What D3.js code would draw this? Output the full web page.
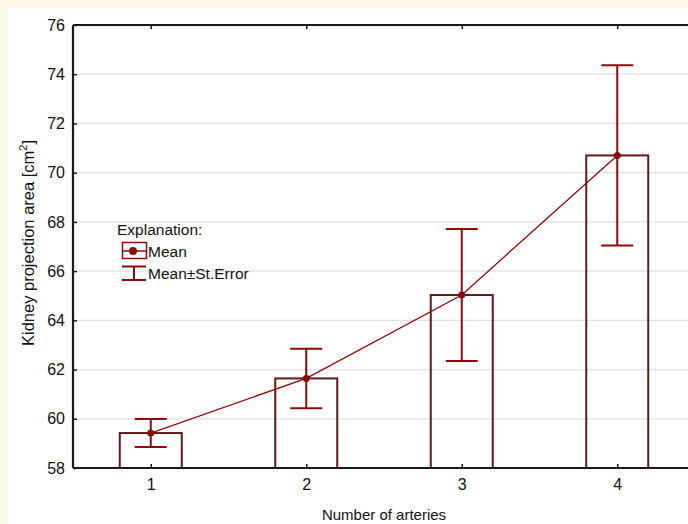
<!DOCTYPE html>
<meta charset="utf-8">
<style>
    body { margin: 0; background: #fdf9e6; }
    svg { display: block; font-family: Arial, "Liberation Sans", sans-serif; }
</style>
<body>
<svg width="688" height="524"></svg>
<script src="https://d3js.org/d3.v7.min.js"></script>
<script>
    // values
    var categories = [1, 2, 3, 4];
    var means = [59.42, 61.64, 65.03, 70.70];
    var stErrors = [0.57, 1.21, 2.68, 3.66];
    var yTicks = [58, 60, 62, 64, 66, 68, 70, 72, 74, 76];

    var svg = d3.select("svg");
    var margin = { top: 25, left: 73 },
        width = 622,
        height = 443;

    var red = "#8b0a0a", barStroke = "#5c1a1a";

    // white panel
    svg.append("rect")
        .attr("x", 8).attr("y", 8)
        .attr("width", 680).attr("height", 516)
        .attr("fill", "#fff");

    var x = d3.scaleLinear().domain([0.5, 4.5]).range([0, width]),
        y = d3.scaleLinear().domain([58, 76]).range([height, 0]);

    var g = svg.append("g")
        .attr("transform", "translate(" + margin.left + "," + margin.top + ")");

    // grid
    g.selectAll(".grid")
        .data(yTicks.slice(1, -1))
        .enter().append("line")
        .attr("x1", 0).attr("x2", width)
        .attr("y1", function (d) { return y(d); })
        .attr("y2", function (d) { return y(d); })
        .attr("stroke", "#e0e0e0")
        .attr("stroke-width", 1.2);

    var data = categories.map(function (c, i) {
        return { c: c, m: means[i], se: stErrors[i] };
    });

    var barW = 62;
    g.selectAll(".bar")
        .data(data)
        .enter().append("rect")
        .attr("x", function (d) { return x(d.c) - barW / 2; })
        .attr("y", function (d) { return y(d.m); })
        .attr("width", barW)
        .attr("height", function (d) { return height - y(d.m); })
        .attr("fill", "none")
        .attr("stroke", barStroke)
        .attr("stroke-width", 2);

    // line through means
    g.append("path")
        .datum(data)
        .attr("fill", "none")
        .attr("stroke", red)
        .attr("stroke-width", 1.3)
        .attr("d", d3.line()
            .x(function (d) { return x(d.c); })
            .y(function (d) { return y(d.m); }));

    // error bars
    var capW = 32;
    var eb = g.selectAll(".err").data(data).enter().append("g")
        .attr("stroke", red).attr("stroke-width", 2);
    eb.append("line")
        .attr("x1", function (d) { return x(d.c); })
        .attr("x2", function (d) { return x(d.c); })
        .attr("y1", function (d) { return y(d.m + d.se); })
        .attr("y2", function (d) { return y(d.m - d.se); });
    eb.append("line")
        .attr("x1", function (d) { return x(d.c) - capW / 2; })
        .attr("x2", function (d) { return x(d.c) + capW / 2; })
        .attr("y1", function (d) { return y(d.m + d.se); })
        .attr("y2", function (d) { return y(d.m + d.se); });
    eb.append("line")
        .attr("x1", function (d) { return x(d.c) - capW / 2; })
        .attr("x2", function (d) { return x(d.c) + capW / 2; })
        .attr("y1", function (d) { return y(d.m - d.se); })
        .attr("y2", function (d) { return y(d.m - d.se); });

    g.selectAll(".dot")
        .data(data)
        .enter().append("circle")
        .attr("cx", function (d) { return x(d.c); })
        .attr("cy", function (d) { return y(d.m); })
        .attr("r", 3.5)
        .attr("fill", red);

    // axes
    var xAxis = d3.axisBottom(x).tickValues(categories).tickSize(-4).tickPadding(10.5).tickFormat(d3.format("d"));
    var yAxis = d3.axisLeft(y).tickValues(yTicks).tickSize(-4).tickPadding(8);

    var ax = g.append("g").attr("transform", "translate(0," + height + ")").call(xAxis);
    var ay = g.append("g").call(yAxis);
    var at = g.append("g").call(d3.axisTop(x).tickValues(categories).tickSize(-4).tickFormat(""));

    [ax, ay, at].forEach(function (a) {
        a.select(".domain").attr("stroke", "#1a1a1a").attr("stroke-width", 2.2);
        a.selectAll(".tick line").attr("stroke", "#1a1a1a").attr("stroke-width", 1.5);
        a.selectAll(".tick text").attr("fill", "#111").style("font-size", "16px");
    });
    at.select(".domain").attr("d", "M0,0H" + width);
    ax.select(".domain").attr("d", "M0,0H" + width);
    ay.select(".domain").attr("d", "M0," + height + "V0");

    // titles
    svg.append("text")
        .attr("x", 384).attr("y", 520)
        .attr("text-anchor", "middle")
        .style("font-size", "15px")
        .attr("fill", "#111")
        .text("Number of arteries");

    var yt = svg.append("text")
        .attr("transform", "translate(34,243) rotate(-90)")
        .attr("text-anchor", "middle")
        .style("font-size", "16.5px")
        .attr("fill", "#111");
    yt.append("tspan").text("Kidney projection area [cm");
    yt.append("tspan").attr("dy", -7).style("font-size", "11px").text("2");
    yt.append("tspan").attr("dy", 7).text("]");

    // legend
    var lg = svg.append("g").attr("transform", "translate(117,229)");
    lg.append("text").attr("x", 0).attr("y", 6)
        .style("font-size", "15.5px").attr("fill", "#111").text("Explanation:");
    lg.append("rect").attr("x", 5.5).attr("y", 13.5).attr("width", 24).attr("height", 16)
        .attr("fill", "none").attr("stroke", red).attr("stroke-width", 1.5);
    lg.append("line").attr("x1", 5.5).attr("x2", 29.5).attr("y1", 22).attr("y2", 22)
        .attr("stroke", red).attr("stroke-width", 1.5);
    lg.append("circle").attr("cx", 16).attr("cy", 22).attr("r", 4).attr("fill", red);
    lg.append("text").attr("x", 31).attr("y", 27.5)
        .style("font-size", "15.5px").attr("fill", "#111").text("Mean");
    lg.append("line").attr("x1", 5).attr("x2", 29).attr("y1", 37.5).attr("y2", 37.5)
        .attr("stroke", red).attr("stroke-width", 2);
    lg.append("line").attr("x1", 5).attr("x2", 29).attr("y1", 51).attr("y2", 51)
        .attr("stroke", red).attr("stroke-width", 2);
    lg.append("line").attr("x1", 17).attr("x2", 17).attr("y1", 37.5).attr("y2", 51)
        .attr("stroke", red).attr("stroke-width", 2);
    lg.append("text").attr("x", 31).attr("y", 49.5)
        .style("font-size", "15.5px").attr("fill", "#111").text("Mean±St.Error");
</script>
</body>
